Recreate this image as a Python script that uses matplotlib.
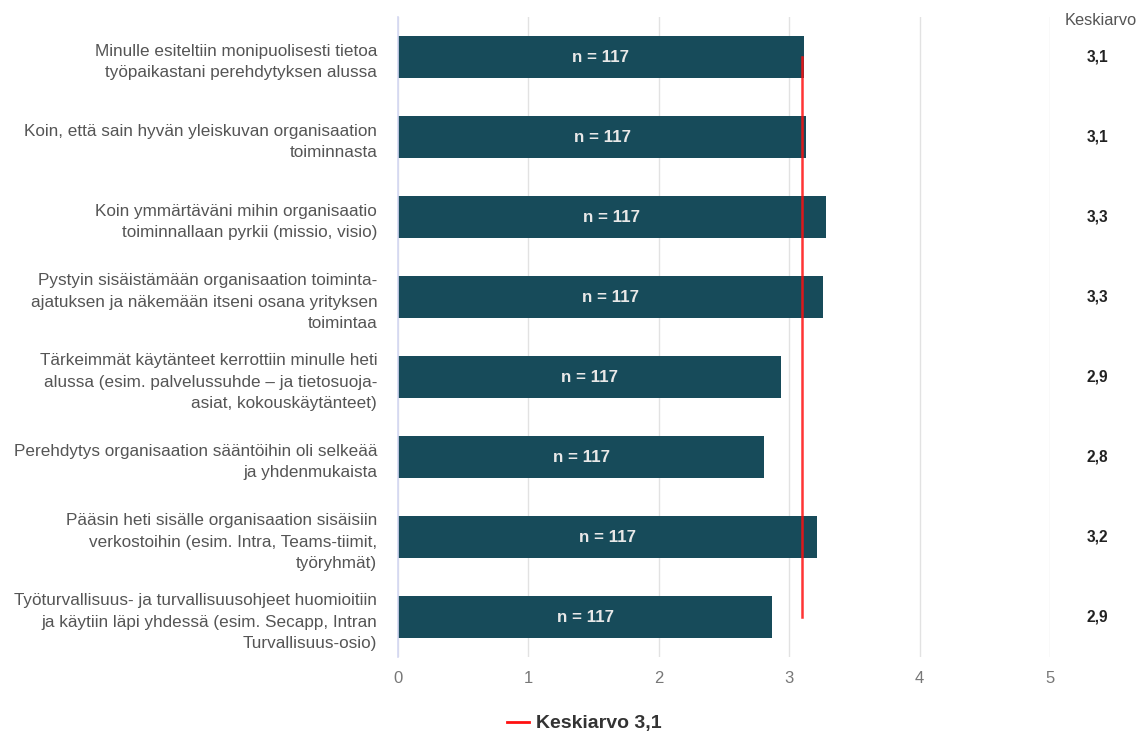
import matplotlib.pyplot as plt
from matplotlib.lines import Line2D

plt.rcParams['font.family'] = ['Liberation Sans', 'DejaVu Sans']

# Väittämät (ylhäältä alas)
kysymykset = [
    'Minulle esiteltiin monipuolisesti tietoa\ntyöpaikastani perehdytyksen alussa',
    'Koin, että sain hyvän yleiskuvan organisaation\ntoiminnasta',
    'Koin ymmärtäväni mihin organisaatio\ntoiminnallaan pyrkii (missio, visio)',
    'Pystyin sisäistämään organisaation toiminta-\najatuksen ja näkemään itseni osana yrityksen\ntoimintaa',
    'Tärkeimmät käytänteet kerrottiin minulle heti\nalussa (esim. palvelussuhde – ja tietosuoja-\nasiat, kokouskäytänteet)',
    'Perehdytys organisaation sääntöihin oli selkeää\nja yhdenmukaista',
    'Pääsin heti sisälle organisaation sisäisiin\nverkostoihin (esim. Intra, Teams-tiimit,\ntyöryhmät)',
    'Työturvallisuus- ja turvallisuusohjeet huomioitiin\nja käytiin läpi yhdessä (esim. Secapp, Intran\nTurvallisuus-osio)',
]
keskiarvot = [3.11, 3.13, 3.28, 3.26, 2.94, 2.81, 3.21, 2.87]
vastaajat = [117, 117, 117, 117, 117, 117, 117, 117]
kokonaiskeskiarvo = 3.1

BAR_COLOR = '#174b5a'
TEXT_GRAY = '#555555'

fig = plt.figure(figsize=(11.41, 7.31), dpi=100)
ax = fig.add_axes([0.3488, 0.1012, 0.5715, 0.8755])

y = list(range(len(kysymykset)))
ax.barh(y, keskiarvot, height=0.53, color=BAR_COLOR, zorder=2)

# n-tekstit palkkien keskelle
for yi, val, n in zip(y, keskiarvot, vastaajat):
    ax.text(val / 2, yi, f'n = {n}', ha='center', va='center',
            color='#e8e8e8', fontsize=12.2, fontweight='bold', zorder=3)

# keskiarvoviiva
ax.plot([kokonaiskeskiarvo, kokonaiskeskiarvo], [y[0], y[-1]],
        color='#ff1010', lw=1.8, alpha=0.85, zorder=4)

ax.set_xlim(0, 5)
ax.set_ylim(len(kysymykset) - 0.5, -0.5)
ax.set_xticks(range(6))
ax.set_yticks(y)
ax.set_yticklabels(kysymykset, fontsize=12.3, color=TEXT_GRAY, linespacing=1.58)
ax.tick_params(axis='both', length=0)
ax.tick_params(axis='y', pad=15)
ax.tick_params(axis='x', pad=10, labelsize=12, labelcolor='#777777')

ax.grid(axis='x', color='#e2e2e2', lw=1, zorder=0)
for side in ['top', 'right', 'bottom']:
    ax.spines[side].set_visible(False)
ax.spines['left'].set_color('#d4d8f2')
ax.spines['left'].set_linewidth(1.2)

# keskiarvosarake oikealla
trans = ax.get_yaxis_transform()
ax.text(1.077, -0.46, 'Keskiarvo', transform=trans, ha='center', va='center',
        fontsize=11.8, color=TEXT_GRAY, clip_on=False)
for yi, val in zip(y, keskiarvot):
    ax.text(1.072, yi, f'{val:.1f}'.replace('.', ','), transform=trans,
            ha='center', va='center', fontsize=11.2, fontweight='bold',
            color='#222222', clip_on=False)

# selite
handle = Line2D([], [], color='#ff1010', lw=2)
fig.legend([handle], [f'Keskiarvo {kokonaiskeskiarvo:.1f}'.replace('.', ',')],
           loc='center left', bbox_to_anchor=(0.429, 0.01), frameon=False,
           handlelength=1.15, handletextpad=0.35,
           prop={'weight': 'bold', 'size': 14})
fig.legends[0].get_texts()[0].set_color('#333333')

fig.savefig('out.png', dpi=100)
